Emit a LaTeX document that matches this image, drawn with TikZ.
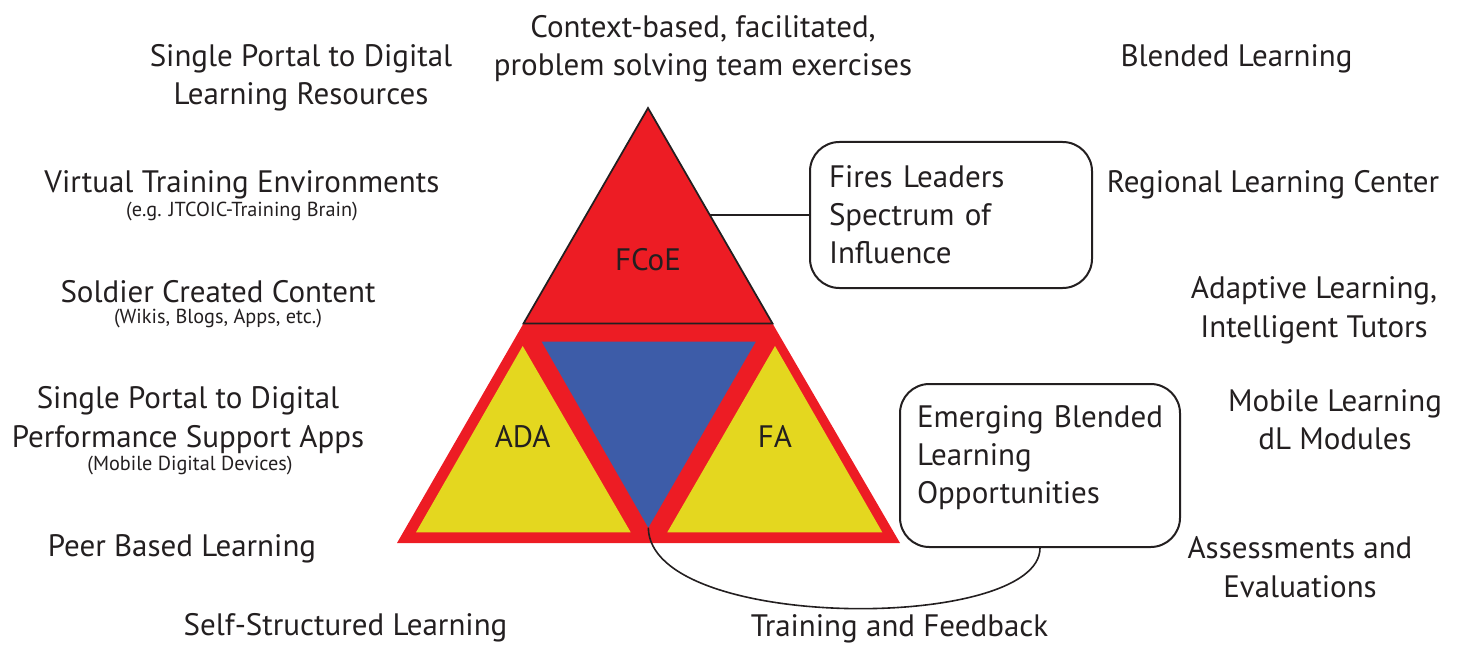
\documentclass[tikz,border=0pt]{standalone}
\usepackage{fontspec}
\setmainfont{PT Sans}
\definecolor{tred}{HTML}{ED1C24}
\definecolor{tyel}{HTML}{E4D71F}
\definecolor{tblue}{HTML}{3D5CA8}
\definecolor{ink}{HTML}{231F20}
\tikzset{
  lbl/.style={inner sep=0pt, align=center, text=ink, yshift=-2.5pt, font=\fontsize{23.25}{29}\selectfont},
  sublbl/.style={inner sep=0pt, align=center, text=ink, yshift=-1.5pt, font=\fontsize{15.2}{18}\selectfont},
  calloutbox/.style={draw=ink, line width=1.5pt, rounded corners=22pt, align=left, text=ink,
     font=\fontsize{23.25}{28.5}\selectfont, inner ysep=0pt},
  link/.style={draw=ink, line width=1.2pt},
}
\begin{document}
\begin{tikzpicture}[x=0.75pt,y=-0.75pt]
\useasboundingbox (0,0) rectangle (1458,645);
% vertices
\coordinate (apex) at (648,108);
\coordinate (bl) at (397,543);
\coordinate (br) at (900,543);
\coordinate (ml) at (523.5,323.5);
\coordinate (mr) at (772.5,323.5);
% lower part
\fill[tred] (bl) -- (br) -- (mr) -- (ml) -- cycle;
\fill[tyel] (416,532.3) -- (630.7,532.3) -- (522.7,346) -- cycle;
\fill[tyel] (667.3,532.3) -- (882.3,532.3) -- (775,346) -- cycle;
\fill[tblue] (541.7,341.7) -- (755.7,341.7) -- (648.3,527.7) -- cycle;
\coordinate (bv) at (648.3,527.7);
% top triangle
\filldraw[fill=tred, draw=ink, line width=1.3pt, line join=miter] (apex) -- (mr) -- (ml) -- cycle;
% triangle labels
\node[lbl] (fcoe) at (648,256) {FCoE};
\node[lbl] (ada) at (522.7,433) {ADA};
\node[lbl] (fa) at (775,433) {FA};
% callout boxes
\node[calloutbox, text width=183pt, inner xsep=14.25pt, minimum width=211.5pt, minimum height=109.5pt] (fires) at (951,215)
  {Fires Leaders\\Spectrum of\\Influence};
\node[calloutbox, text width=184.5pt, inner xsep=12.75pt, minimum width=210pt, minimum height=122.25pt] (ebl) at (1040,465.5)
  {Emerging Blended\\Learning\\Opportunities\rule[-16pt]{0pt}{16pt}};
% connectors
\coordinate (fedge) at (710.3,215);
\draw[link] (fires.west) -- (fedge);
\draw[link] (bv) .. controls (650,632) and (1040,632) .. (ebl.south);
% left labels
\node[lbl] (spdl) at (301,74.5) {Single Portal to Digital\\Learning Resources};
\node[lbl] (vte) at (242,181) {Virtual Training Environments};
\node[sublbl] (vtes) at (242,210) {(e.g. JTCOIC-Training Brain)};
\node[lbl] (scc) at (218,288) {Soldier Created Content};
\node[sublbl] (sccs) at (218,317) {(Wikis, Blogs, Apps, etc.)};
\node[lbl] (spps) at (188,416.5) {Single Portal to Digital\\Performance Support Apps};
\node[sublbl] (sppss) at (190,464) {(Mobile Digital Devices)};
\node[lbl] (pbl) at (182,545) {Peer Based Learning};
\node[lbl, yshift=2.5pt] (ssl) at (345.5,628) {Self-Structured Learning};
% top / bottom
\node[lbl] (ctx) at (703,45.5) {Context-based, facilitated,\\problem solving team exercises};
\node[lbl, yshift=2.5pt] (tf) at (899.5,629) {Training and Feedback};
% right labels
\node[lbl] (bll) at (1236.5,55) {Blended Learning};
\node[lbl] (rlc) at (1273,181) {Regional Learning Center};
\node[lbl] (alit) at (1314,307) {Adaptive Learning,\\Intelligent Tutors};
\node[lbl] (mldl) at (1335,416.5) {Mobile Learning\\dL Modules};
\node[lbl] (ae) at (1300,564) {Assessments and\\Evaluations};
\end{tikzpicture}
\end{document}
